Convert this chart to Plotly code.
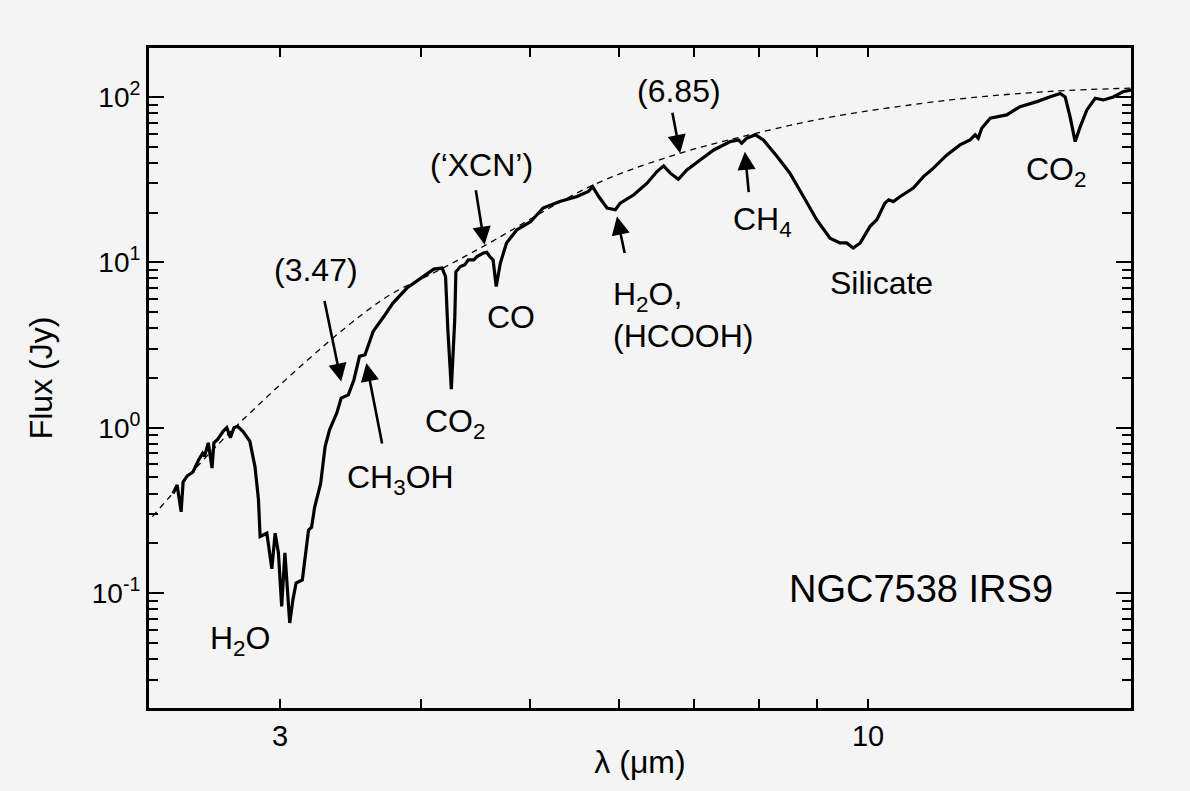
import numpy as np
import plotly.graph_objects as go

# NGC7538 IRS9 infrared spectrum: wavelength (micron) and flux density (Jy)
wavelength = [
    2.41, 2.43, 2.45, 2.46, 2.48, 2.51, 2.54, 2.56, 2.57, 2.59,
    2.61, 2.62, 2.64, 2.67, 2.69, 2.71, 2.73, 2.75, 2.78, 2.82,
    2.85, 2.87, 2.88, 2.92, 2.95, 2.97, 2.99, 3.01, 3.03, 3.04,
    3.06, 3.08, 3.10, 3.14, 3.16, 3.18, 3.20, 3.22, 3.26, 3.29,
    3.32, 3.37, 3.40, 3.45, 3.49, 3.53, 3.57, 3.63, 3.71, 3.78,
    3.89, 4.02, 4.11, 4.18, 4.21, 4.23, 4.26, 4.29, 4.30, 4.34,
    4.38, 4.41, 4.46, 4.49, 4.55, 4.58, 4.61, 4.64, 4.67, 4.71,
    4.77, 4.87, 5.01, 5.14, 5.32, 5.51, 5.64, 5.69, 5.76, 5.86,
    5.96, 6.02, 6.19, 6.36, 6.49, 6.58, 6.67, 6.78, 6.90, 7.09,
    7.29, 7.54, 7.67, 7.72, 7.80, 7.94, 8.07, 8.30, 8.52, 8.76,
    9.00, 9.25, 9.44, 9.57, 9.70, 9.84, 10.04, 10.18, 10.35, 10.43,
    10.53, 10.68, 10.97, 11.20, 11.43, 11.75, 12.07, 12.32, 12.45, 12.53,
    12.62, 12.84, 13.28, 13.65, 14.13, 14.52, 14.82, 14.97, 15.12, 15.28,
    15.44, 15.65, 15.92, 16.19, 16.52, 16.87, 17.16,
]
flux = [
    0.40, 0.45, 0.31, 0.47, 0.51, 0.54, 0.64, 0.70, 0.67, 0.81,
    0.57, 0.81, 0.85, 0.95, 1.00, 0.87, 1.00, 1.02, 0.95, 0.83,
    0.58, 0.37, 0.22, 0.23, 0.14, 0.23, 0.175, 0.083, 0.175, 0.126,
    0.066, 0.091, 0.115, 0.12, 0.175, 0.24, 0.25, 0.33, 0.46, 0.77,
    0.97, 1.23, 1.51, 1.58, 1.95, 2.70, 2.76, 3.82, 4.70, 5.67,
    6.99, 8.2, 9.1, 9.23, 8.2, 3.9, 1.71, 4.5, 8.76, 9.43,
    9.66, 10.35, 10.35, 10.84, 11.4, 11.5, 10.8, 10.35, 7.14, 9.9,
    13.1, 15.7, 17.6, 21.3, 23.3, 25.0, 26.8, 28.7, 25.0, 21.3,
    20.8, 22.8, 25.6, 30.1, 35.4, 38.3, 34.6, 31.8, 36.2, 41.6,
    47.8, 53.7, 55.0, 52.5, 56.3, 59.0, 55.0, 43.6, 34.6, 25.0,
    18.1, 14.0, 13.1, 13.1, 12.2, 13.1, 16.5, 18.1, 22.8, 23.9,
    23.3, 25.0, 28.1, 33.0, 37.1, 44.6, 51.3, 55.0, 59.0, 56.3,
    64.7, 74.3, 77.9, 87.4, 93.7, 100.4, 105, 100, 76.0, 53.7,
    66.2, 83.5, 98.2, 95.9, 100, 108, 110,
]

# Adopted continuum (dashed)
cont_wavelength = [2.31, 2.75, 3.68, 4.16, 4.55, 5.70, 6.81, 7.96, 9.31,
                   11.83, 14.52, 17.10]
cont_flux = [0.29, 1.04, 5.80, 9.01, 12.5, 29.4, 45.7, 60.4, 76.0,
             95.9, 108, 113]

# Axis ticks
x_tick_vals = [3, 10]
x_tick_text = ["3", "10"]
x_minor_vals = [4, 5, 6, 7, 8, 9]
y_tick_vals = [0.1, 1, 10, 100]
y_tick_text = ["10<sup>-1</sup>", "10<sup>0</sup>", "10<sup>1</sup>", "10<sup>2</sup>"]
y_minor_vals = [m * 10.0 ** e for e in (-2, -1, 0, 1) for m in range(2, 10)]

# Feature labels: text, wavelength, flux, font size, horizontal anchor
feature_labels = [
    ("(3.47)", 3.23, 9.0, 32, "center"),
    ("CH<sub>3</sub>OH", 3.84, 0.485, 32, "center"),
    ("CO<sub>2</sub>", 4.29, 1.06, 32, "center"),
    ("(‘XCN’)", 4.53, 38.8, 32, "center"),
    ("CO", 4.815, 4.69, 32, "center"),
    ("H<sub>2</sub>O,<br>(HCOOH)", 5.91, 4.82, 32, "left"),
    ("(6.85)", 6.79, 108.7, 32, "center"),
    ("CH<sub>4</sub>", 8.05, 17.6, 32, "center"),
    ("Silicate", 10.27, 7.5, 32, "center"),
    ("CO<sub>2</sub>", 14.69, 35.2, 32, "center"),
    ("H<sub>2</sub>O", 2.764, 0.0516, 32, "center"),
    ("NGC7538 IRS9", 11.15, 0.1065, 38, "center"),
]

# Arrows: tip wavelength, tip flux, tail offset in pixels (dx, dy)
feature_arrows = [
    (3.40, 1.90, -17, -82),
    (3.58, 2.46, 16, 82),
    (4.56, 12.76, -9, -56),
    (5.98, 18.9, 8, 38),
    (6.805, 45.7, -8, -42),
    (7.77, 46.7, 4, 42),
]

FONT = "Liberation Sans, Arial, Helvetica, sans-serif"
BG = "#f4f4f4"

fig = go.Figure()
fig.add_trace(go.Scatter(
    x=cont_wavelength, y=cont_flux, mode="lines",
    line=dict(color="black", width=1.3, dash="6px,5px", shape="spline", smoothing=1.0),
    hoverinfo="skip", showlegend=False,
))
fig.add_trace(go.Scatter(
    x=wavelength, y=flux, mode="lines",
    line=dict(color="black", width=3.2),
    showlegend=False,
))

x_range = [np.log10(2.294), np.log10(17.13)]
y_range = [-1.695, 2.296]

fig.update_layout(
    width=1190, height=791,
    margin=dict(l=149, r=59, t=48, b=83),
    paper_bgcolor=BG, plot_bgcolor=BG,
    font=dict(family=FONT, color="black", size=29),
    showlegend=False,
    xaxis=dict(
        type="log", range=x_range,
        showline=True, linewidth=3, linecolor="black", mirror="ticks",
        ticks="inside", ticklen=9, tickwidth=2, tickcolor="black",
        tickmode="array", tickvals=x_tick_vals, ticktext=x_tick_text,
        minor=dict(tickmode="array", tickvals=x_minor_vals, ticks="inside",
                   ticklen=9, tickwidth=2, tickcolor="black", showgrid=False),
        ticklabelstandoff=0,
        tickfont=dict(family=FONT, size=29, color="black"),
        showgrid=False, zeroline=False,
        title=dict(text="λ (μm)", font=dict(family=FONT, size=32, color="black"), standoff=0),
    ),
    xaxis2=dict(
        type="log", range=x_range, overlaying="x", anchor="y",
        showline=False, mirror="ticks",
        ticks="inside", ticklen=15, tickwidth=2, tickcolor="black",
        tickmode="array", tickvals=[10], showticklabels=False,
        showgrid=False, zeroline=False,
    ),
    yaxis=dict(
        type="log", range=y_range,
        showline=True, linewidth=3, linecolor="black", mirror="ticks",
        ticks="inside", ticklen=15, tickwidth=2, tickcolor="black",
        tickmode="array", tickvals=y_tick_vals, ticktext=y_tick_text,
        minor=dict(tickmode="array", tickvals=y_minor_vals, ticks="inside",
                   ticklen=9, tickwidth=2, tickcolor="black", showgrid=False),
        ticklabelstandoff=0,
        tickfont=dict(family=FONT, size=28, color="black"),
        showgrid=False, zeroline=False,
        title=dict(text="Flux (Jy)", font=dict(family=FONT, size=32, color="black"), standoff=30),
    ),
)

annotations = []
for text, lam, fl, size, anchor in feature_labels:
    annotations.append(dict(
        x=np.log10(lam), y=np.log10(fl), xref="x", yref="y",
        text=text, showarrow=False, xanchor=anchor, yanchor="middle",
        align="left", font=dict(family=FONT, size=size, color="black"),
    ))
for lam, fl, dx, dy in feature_arrows:
    annotations.append(dict(
        x=np.log10(lam), y=np.log10(fl), xref="x", yref="y",
        text="", showarrow=True, ax=dx, ay=dy,
        arrowhead=2, arrowsize=1.4, arrowwidth=2.6, arrowcolor="black",
        standoff=0, startstandoff=0,
    ))
fig.update_layout(annotations=annotations)

fig.write_html("out.html")
